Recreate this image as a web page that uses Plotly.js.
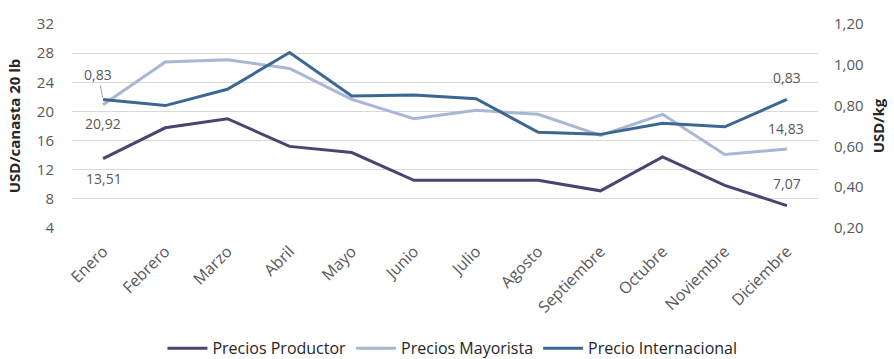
<!DOCTYPE html>
<html>
<head>
<meta charset="utf-8">
<script src="https://cdn.plot.ly/plotly-3.0.1.min.js"></script>
<style>html,body{margin:0;padding:0;background:#fff;}#chart{width:894px;height:359px;}</style>
</head>
<body>
<div id="chart"></div>
<script>
const months = ["Enero","Febrero","Marzo","Abril","Mayo","Junio","Julio","Agosto","Septiembre","Octubre","Noviembre","Diciembre"];
const preciosProductor = [13.51, 17.75, 19.0, 15.2, 14.35, 10.55, 10.55, 10.55, 9.1, 13.75, 9.85, 7.07];
const preciosMayorista = [20.92, 26.8, 27.1, 25.9, 21.65, 19.0, 20.15, 19.6, 16.7, 19.6, 14.1, 14.83];
const precioInternacional = [0.83, 0.80, 0.88, 1.06, 0.847, 0.852, 0.834, 0.669, 0.659, 0.713, 0.696, 0.83];

const FONT = "Open Sans, Liberation Sans, sans-serif";
const GREY = "#595959";
const fmt2 = v => v.toFixed(2).replace(".", ",");
const last = months.length - 1;

const traces = [
  {x: months, y: preciosProductor, name: "Precios Productor", type: "scatter", mode: "lines",
   line: {color: "#51416f", width: 3}},
  {x: months, y: preciosMayorista, name: "Precios Mayorista", type: "scatter", mode: "lines",
   line: {color: "#a8b7d3", width: 3}},
  {x: months, y: precioInternacional, name: "Precio Internacional", type: "scatter", mode: "lines",
   yaxis: "y2", line: {color: "#3c6792", width: 3}}
];

const ann = (x, y, yref, text, yshift, xshift) => ({
  x: x, y: y, xref: "x", yref: yref, text: text, showarrow: false,
  yshift: yshift, xshift: xshift || 0, font: {family: FONT, size: 14, color: GREY}
});

const annotations = [
  {x: months[0], y: precioInternacional[0], xref: "x", yref: "y2", text: fmt2(precioInternacional[0]),
   showarrow: true, arrowhead: 0, arrowwidth: 1, arrowcolor: "#a6a6a6", ax: -5, ay: -25, standoff: 2,
   font: {family: FONT, size: 14, color: GREY}},
  ann(months[0], preciosMayorista[0], "y", fmt2(preciosMayorista[0]), -19, 0),
  ann(months[0], preciosProductor[0], "y", fmt2(preciosProductor[0]), -20, 1),
  ann(months[last], precioInternacional[last], "y2", fmt2(precioInternacional[last]), 22, 0),
  ann(months[last], preciosMayorista[last], "y", fmt2(preciosMayorista[last]), 21, -1),
  ann(months[last], preciosProductor[last], "y", fmt2(preciosProductor[last]), 22, 0)
];

const layout = {
  width: 894, height: 359,
  margin: {l: 72, r: 76, t: 24, b: 131},
  paper_bgcolor: "#fff", plot_bgcolor: "#fff",
  separators: ",.",
  font: {family: FONT, size: 15, color: GREY},
  showlegend: true,
  legend: {orientation: "h", x: 0.51, xanchor: "center", xref: "paper",
           y: 0.03, yanchor: "middle", yref: "container",
           font: {family: FONT, size: 16, color: "#262626"}, itemwidth: 40},
  xaxis: {type: "category", range: [-0.5, 11.5], tickangle: -45, showgrid: false, showline: false,
          ticks: "", ticklabelstandoff: 10, tickfont: {family: FONT, size: 16, color: GREY}, fixedrange: true},
  yaxis: {range: [4, 32], dtick: 4, tick0: 4, showgrid: true, gridcolor: "#d9d9d9", gridwidth: 1,
          zeroline: false, showline: false, ticks: "", ticklabelstandoff: 17,
          tickfont: {family: FONT, size: 15, color: GREY},
          title: {text: "USD/canasta 20 lb", standoff: 12, font: {family: FONT, size: 15, color: "#262626", weight: "bold"}}},
  yaxis2: {range: [0.2, 1.2], dtick: 0.2, tick0: 0.2, overlaying: "y", side: "right", showgrid: false,
           zeroline: false, showline: false, ticks: "", tickformat: ".2f", ticklabelstandoff: 15,
           tickfont: {family: FONT, size: 15, color: GREY},
           title: {text: "USD/kg", standoff: 10, font: {family: FONT, size: 15, color: "#262626", weight: "bold"}}},
  annotations: annotations
};

Plotly.newPlot("chart", traces, layout, {displayModeBar: false, staticPlot: true});
</script>
</body>
</html>
